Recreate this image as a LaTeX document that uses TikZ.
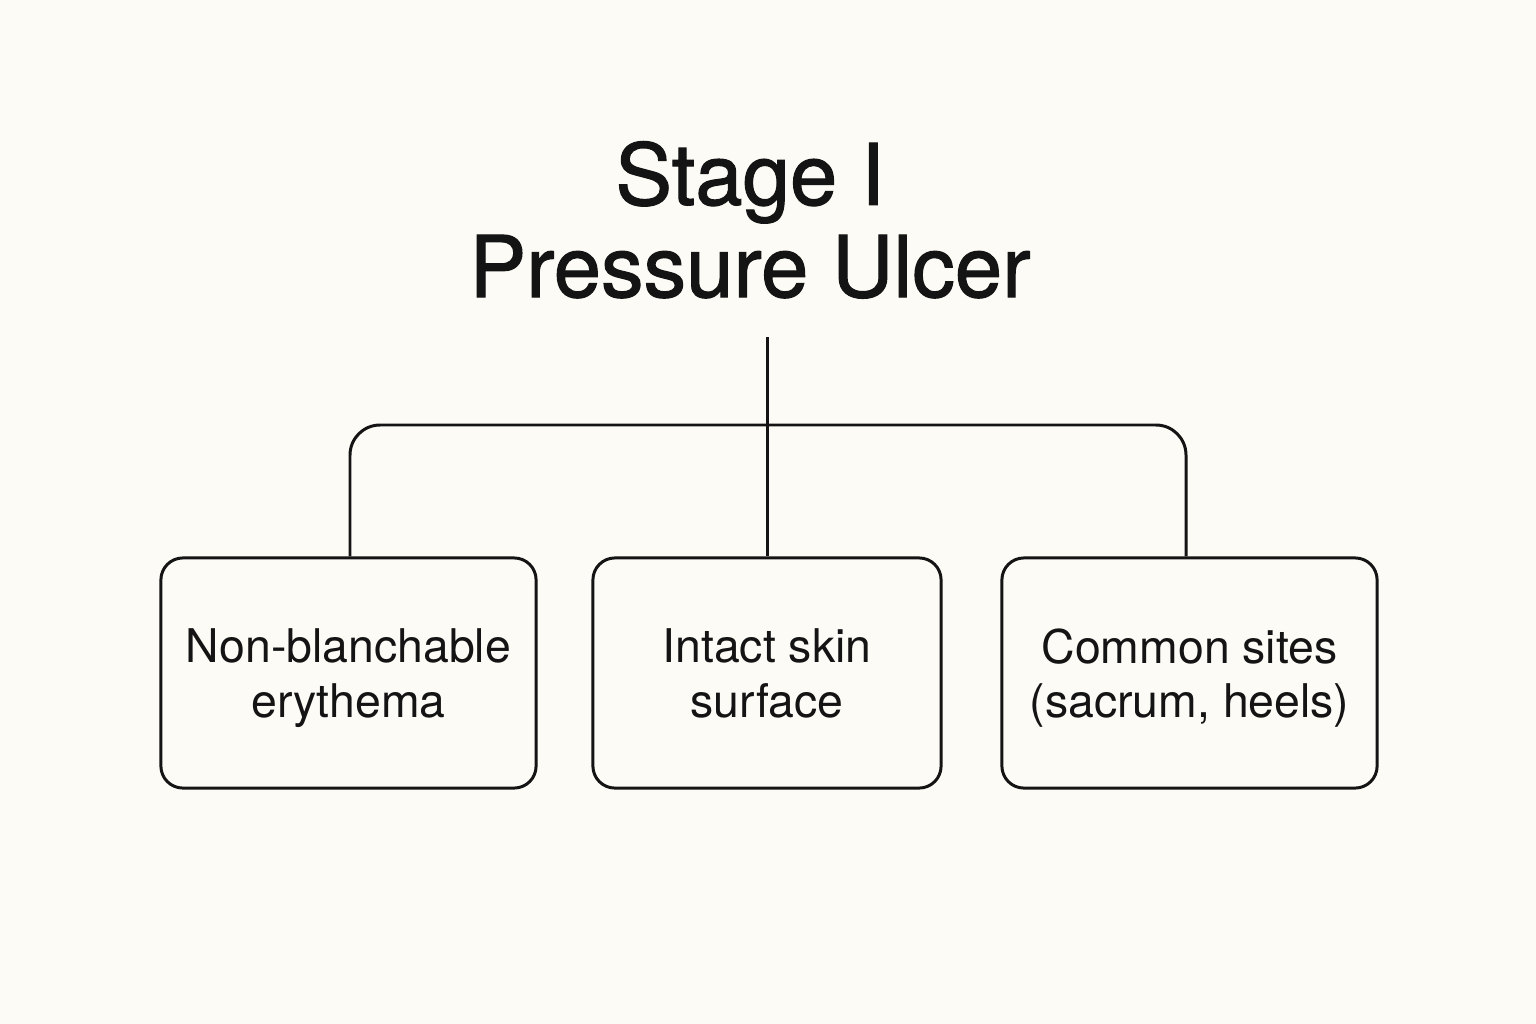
\documentclass[tikz,border=0pt]{standalone}
\usepackage{fontspec}
\setmainfont{TeX Gyre Heros}
\newfontfamily\titlefont{TeX Gyre Heros}[FakeBold=1.3]
\definecolor{paper}{HTML}{FCFBF6}
\definecolor{ink}{HTML}{141414}
\tikzset{
  sitebox/.style={draw=ink,line width=0.85pt,rounded corners=0.22cm,minimum height=2.3cm,text depth=0pt,align=center,text=ink,font=\fontsize{13.2}{15.4}\selectfont},
  link/.style={draw=ink,line width=0.85pt}
}
\begin{document}
\begin{tikzpicture}[x=0.01cm,y=-0.01cm]
\fill[paper] (0,0) rectangle (1536,1024);
\useasboundingbox (0,0) rectangle (1536,1024);
\node[anchor=base,align=center,text=ink,font=\titlefont\fontsize{24.2}{26.2}\selectfont] (title) at (750,297) {Stage I\\Pressure Ulcer};
\node[sitebox,minimum width=3.75cm] (erythema) at (348.5,673) {Non-blanchable\\erythema};
\node[sitebox,minimum width=3.48cm] (skin) at (767,673) {Intact skin\\surface};
\node[sitebox,minimum width=3.75cm] (sites) at (1189.5,673) {Common sites\\(sacrum, heels)};
\coordinate (stem) at (767,337);
\coordinate (hub) at (767,425);
\draw[link,rounded corners=0.3cm] (erythema.north -| 350,0) |- (hub) -| (sites.north -| 1186,0);
\draw[link] (stem) -- (skin.north);
\end{tikzpicture}
\end{document}
